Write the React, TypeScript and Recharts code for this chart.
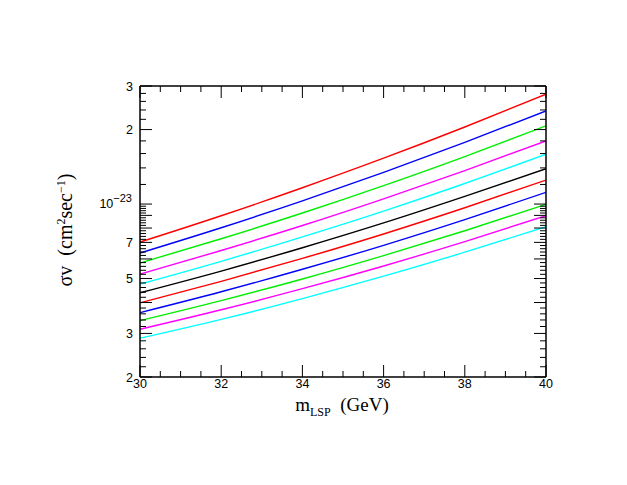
import React from 'react';
import { LineChart, Line, XAxis, YAxis } from 'recharts';

const masses = [30, 32, 34, 36, 38, 40];

// cross sections (cm^2 sec^-1), top curve first
const red1 = [7.02e-24, 8.97e-24, 1.164e-23, 1.532e-23, 2.048e-23, 2.78e-23];
const blue1 = [6.34e-24, 8.02e-24, 1.03e-23, 1.342e-23, 1.775e-23, 2.38e-23];
const green1 = [5.78e-24, 7.24e-24, 9.2e-24, 1.187e-23, 1.556e-23, 2.07e-23];
const magenta1 = [5.21e-24, 6.49e-24, 8.19e-24, 1.05e-23, 1.365e-23, 1.8e-23];
const cyan1 = [4.75e-24, 5.87e-24, 7.37e-24, 9.37e-24, 1.211e-23, 1.59e-23];
const black1 = [4.38e-24, 5.36e-24, 6.66e-24, 8.39e-24, 1.074e-23, 1.39e-23];
const red2 = [3.99e-24, 4.87e-24, 6.03e-24, 7.57e-24, 9.66e-24, 1.25e-23];
const blue2 = [3.64e-24, 4.42e-24, 5.45e-24, 6.81e-24, 8.65e-24, 1.115e-23];
const green2 = [3.38e-24, 4.07e-24, 4.98e-24, 6.19e-24, 7.8e-24, 9.97e-24];
const magenta2 = [3.12e-24, 3.74e-24, 4.55e-24, 5.62e-24, 7.05e-24, 8.97e-24];
const cyan2 = [2.87e-24, 3.42e-24, 4.15e-24, 5.11e-24, 6.39e-24, 8.1e-24];

const seriesList = [
  { key: 'red1', values: red1, color: '#ff0000' },
  { key: 'blue1', values: blue1, color: '#0000ff' },
  { key: 'green1', values: green1, color: '#00ee00' },
  { key: 'magenta1', values: magenta1, color: '#ff00ff' },
  { key: 'cyan1', values: cyan1, color: '#00ffff' },
  { key: 'black1', values: black1, color: '#000000' },
  { key: 'red2', values: red2, color: '#ff0000' },
  { key: 'blue2', values: blue2, color: '#0000ff' },
  { key: 'green2', values: green2, color: '#00ee00' },
  { key: 'magenta2', values: magenta2, color: '#ff00ff' },
  { key: 'cyan2', values: cyan2, color: '#00ffff' },
];

const data = masses.map((m, i) => {
  const row: Record<string, number> = { m };
  seriesList.forEach((s) => (row[s.key] = s.values[i]));
  return row;
});

// axis ticks
const xMajor = [30, 32, 34, 36, 38, 40];
const xTicks: number[] = [];
for (let v = 30; v <= 40.001; v += 0.5) xTicks.push(Math.round(v * 10) / 10);

const yMajor = [2e-24, 3e-24, 4e-24, 5e-24, 6e-24, 7e-24, 8e-24, 9e-24, 1e-23, 2e-23, 3e-23];
const yLabelVals = [2e-24, 3e-24, 5e-24, 7e-24, 2e-23, 3e-23];
const yLabelText = ['2', '3', '5', '7', '2', '3'];
const yTicks: number[] = [];
for (let k = 20; k <= 100; k += 2) yTicks.push(Number((k * 1e-25).toPrecision(3)));
for (let k = 12; k <= 30; k += 2) yTicks.push(Number((k * 1e-24).toPrecision(3)));

const near = (a: number, b: number) => Math.abs(a - b) / b < 1e-6;
const isMajorY = (v: number) => yMajor.some((t) => near(v, t));
const isMajorX = (v: number) => xMajor.some((t) => Math.abs(t - v) < 1e-6);

const tickFont = { fontFamily: 'Liberation Sans, Arial, sans-serif', fontSize: 12.5, fill: '#000' };

const LeftTick = (props: any) => {
  const { x, y, payload } = props;
  const v = payload.value as number;
  const len = isMajorY(v) ? 12 : 6;
  const li = yLabelVals.findIndex((t) => near(v, t));
  const is1e23 = near(v, 1e-23);
  return (
    <g>
      <line x1={x} x2={x + len} y1={y} y2={y} stroke="#000" strokeWidth={1} />
      {is1e23 && (
        <text x={x - 8} y={y + 4} textAnchor="end" {...tickFont}>
          10<tspan dy={-6} fontSize={11}>−23</tspan>
        </text>
      )}
      {li >= 0 && (
        <text x={x - 7} y={y + 4.5} textAnchor="end" {...tickFont}>
          {yLabelText[li]}
        </text>
      )}
    </g>
  );
};

const RightTick = (props: any) => {
  const { x, y, payload } = props;
  const len = isMajorY(payload.value) ? 12 : 6;
  return <line x1={x} x2={x - len} y1={y} y2={y} stroke="#000" strokeWidth={1} />;
};

const BottomTick = (props: any) => {
  const { x, y, payload } = props;
  const v = payload.value as number;
  const major = isMajorX(v);
  const len = major ? 12 : 6;
  return (
    <g>
      <line x1={x} x2={x} y1={y} y2={y - len} stroke="#000" strokeWidth={1} />
      {major && (
        <text x={x} y={y + 11} textAnchor="middle" {...tickFont}>
          {v}
        </text>
      )}
    </g>
  );
};

const TopTick = (props: any) => {
  const { x, y, payload } = props;
  const len = isMajorX(payload.value) ? 12 : 6;
  return <line x1={x} x2={x} y1={y} y2={y + len} stroke="#000" strokeWidth={1} />;
};

const axisLine = { stroke: '#000', strokeWidth: 1.5 };

export default function App() {
  return (
    <div style={{ position: 'absolute', left: 0, top: 0, width: 627, height: 485, background: '#fff' }}>
      <LineChart
        width={627}
        height={485}
        data={data}
        margin={{ top: 76, right: 71, bottom: 78, left: 80 }}
      >
        <XAxis
          xAxisId="b"
          dataKey="m"
          type="number"
          domain={[30, 40]}
          allowDataOverflow
          ticks={xTicks}
          interval={0}
          height={30}
          tickSize={0}
          tickMargin={0}
          tickLine={false}
          axisLine={axisLine}
          tick={<BottomTick />}
        />
        <XAxis
          xAxisId="t"
          orientation="top"
          dataKey="m"
          type="number"
          domain={[30, 40]}
          allowDataOverflow
          ticks={xTicks}
          interval={0}
          height={10}
          tickSize={0}
          tickMargin={0}
          tickLine={false}
          axisLine={axisLine}
          tick={<TopTick />}
        />
        <YAxis
          yAxisId="l"
          type="number"
          scale="log"
          domain={[2e-24, 3e-23]}
          allowDataOverflow
          ticks={yTicks}
          interval={0}
          width={60}
          tickSize={0}
          tickMargin={0}
          tickLine={false}
          axisLine={axisLine}
          tick={<LeftTick />}
        />
        <YAxis
          yAxisId="r"
          orientation="right"
          type="number"
          scale="log"
          domain={[2e-24, 3e-23]}
          allowDataOverflow
          ticks={yTicks}
          interval={0}
          width={10}
          tickSize={0}
          tickMargin={0}
          tickLine={false}
          axisLine={axisLine}
          tick={<RightTick />}
        />
        {seriesList.map((s) => (
          <Line
            key={s.key}
            xAxisId="b"
            yAxisId="l"
            dataKey={s.key}
            type="monotone"
            stroke={s.color}
            strokeWidth={1.4}
            dot={false}
            isAnimationActive={false}
          />
        ))}
        {/* invisible copy so the mirrored top/right axes get a domain */}
        <Line
          xAxisId="t"
          yAxisId="r"
          dataKey="black1"
          stroke="none"
          dot={false}
          isAnimationActive={false}
        />
      </LineChart>
      <svg
        width={627}
        height={485}
        style={{ position: 'absolute', left: 0, top: 0, pointerEvents: 'none' }}
      >
        <text
          x={342}
          y={411}
          textAnchor="middle"
          fontFamily="Liberation Serif, serif"
          fontSize={19}
          fill="#000"
          style={{ whiteSpace: 'pre' }}
        >
          m<tspan dy={5} fontSize={12}>LSP</tspan>
          <tspan dy={-5}>{'  (GeV)'}</tspan>
        </text>
        <text
          transform="translate(72,230) rotate(-90)"
          textAnchor="middle"
          fontFamily="Liberation Serif, serif"
          fontSize={20}
          fill="#000"
          style={{ whiteSpace: 'pre' }}
        >
          {'σv  (cm'}
          <tspan dy={-7} fontSize={12}>2</tspan>
          <tspan dy={7}>sec</tspan>
          <tspan dy={-7} fontSize={12}>−1</tspan>
          <tspan dy={7}>)</tspan>
        </text>
      </svg>
    </div>
  );
}
